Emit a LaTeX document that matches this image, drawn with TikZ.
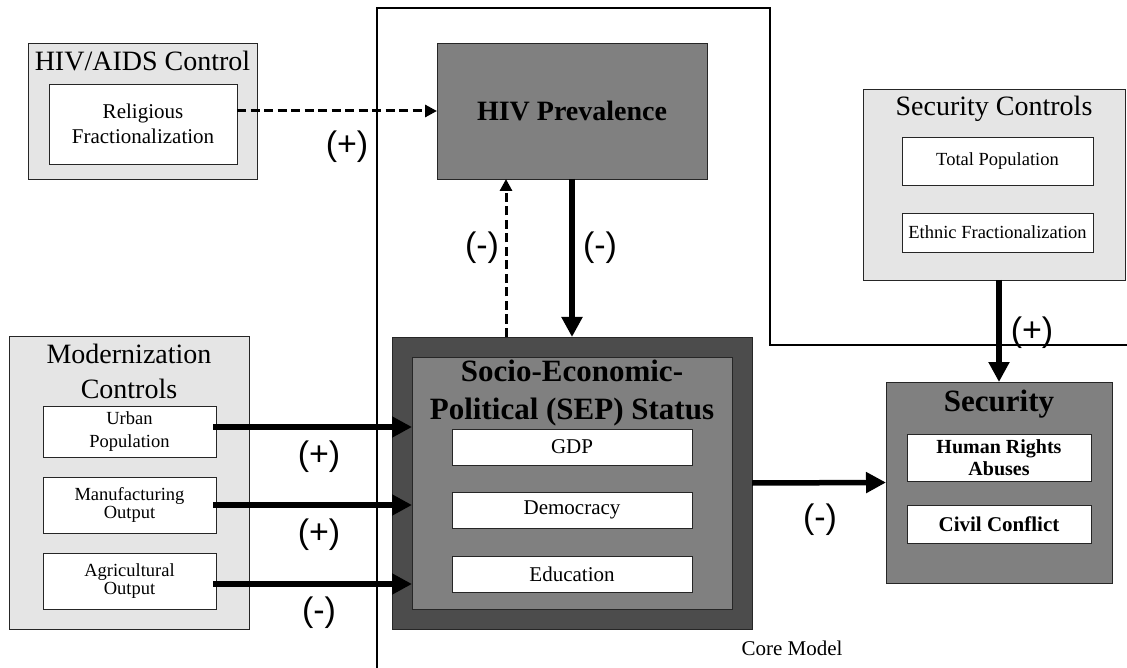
\documentclass[tikz,border=0pt]{standalone}
\usepackage{fontspec}
\setmainfont{Liberation Serif}
\newfontfamily\labfont{Liberation Sans}
\usetikzlibrary{arrows.meta}
\begin{document}
\begin{tikzpicture}[x=1pt,y=-1pt,
 rbox/.style={draw=black!85, line width=0.8pt, inner sep=0pt, outer sep=0pt},
 ctl/.style={rbox, fill=black!10},
 wbox/.style={rbox, fill=white},
 gbox/.style={rbox, fill=black!50},
 dbox/.style={rbox, fill=black!70},
 txt/.style={inner sep=0pt, align=center},
 sign/.style={inner sep=0pt, font=\labfont\fontsize{34}{36}\selectfont},
 strong/.style={line width=5.5pt, -{Triangle[length=20pt,width=20pt]}},
 dasharrow/.style={line width=3pt, dash pattern=on 9pt off 4.5pt, -{Triangle[length=12pt,width=12pt]}},
 coreline/.style={line width=1.3pt, draw=black},
]
\useasboundingbox (0,0) rectangle (1127,668);

% core model outline
\coordinate (cm1) at (377,668);
\coordinate (cm2) at (377,8);
\coordinate (cm3) at (770,8);
\coordinate (cm4) at (770,345);
\coordinate (cm5) at (1127,345);
\draw[coreline] (cm1) -- (cm2) -- (cm3) -- (cm4) -- (cm5);
\node[txt, font=\fontsize{21}{24}\selectfont] (coremodel) at (792,648) {Core Model};

% HIV/AIDS control
\node[ctl, minimum width=229pt, minimum height=136pt] (hivctl) at (142.5,111) {};
\node[txt, font=\fontsize{28}{30}\selectfont] (hivctlT) at (142.5,61) {HIV/AIDS Control};
\node[wbox, minimum width=188pt, minimum height=80pt] (relig) at (143,124) {};
\node[txt, font=\fontsize{21}{25}\selectfont] (religT) at (143,124) {Religious\\Fractionalization};

% HIV prevalence
\node[gbox, minimum width=270pt, minimum height=136pt, font=\bfseries\fontsize{28}{30}\selectfont] (hiv) at (572,111) {HIV Prevalence};

% Security controls
\node[ctl, minimum width=262pt, minimum height=191pt] (secctl) at (994,184.5) {};
\node[txt, font=\fontsize{28}{30}\selectfont] (secctlT) at (994,109) {Security Controls};
\node[wbox, minimum width=191pt, minimum height=48pt, font=\fontsize{18.5}{21}\selectfont] (totpop) at (997.5,161) {Total Population};
\node[wbox, minimum width=191pt, minimum height=39pt, font=\fontsize{18.5}{21}\selectfont] (ethnic) at (997.5,232.5) {Ethnic Fractionalization};

% Modernization controls
\node[ctl, minimum width=240pt, minimum height=293pt] (modctl) at (129,482.5) {};
\node[txt, font=\fontsize{28}{35}\selectfont] (modctlT) at (129,371) {Modernization\\Controls};
\node[wbox, minimum width=173pt, minimum height=51pt] (urban) at (129.5,431.5) {};
\node[txt, font=\fontsize{18.5}{23}\selectfont] (urbanT) at (129.5,431.5) {Urban\\Population};
\node[wbox, minimum width=173pt, minimum height=56pt] (manuf) at (129.5,505) {};
\node[txt, font=\fontsize{18.5}{18.5}\selectfont] (manufT) at (129.5,505) {Manufacturing\\Output};
\node[wbox, minimum width=173pt, minimum height=56pt] (agri) at (129.5,581) {};
\node[txt, font=\fontsize{18.5}{18.5}\selectfont] (agriT) at (129.5,581) {Agricultural\\Output};

% SEP status
\node[dbox, minimum width=360pt, minimum height=292pt] (sepout) at (572,483) {};
\node[gbox, minimum width=320pt, minimum height=252pt] (sepin) at (572,483) {};
\node[txt, font=\bfseries\fontsize{31}{38}\selectfont] (sepT) at (572,393) {Socio-Economic-\\Political (SEP) Status};
\node[wbox, minimum width=240pt, minimum height=36pt, font=\fontsize{21}{24}\selectfont] (gdp) at (572,447) {GDP};
\node[wbox, minimum width=240pt, minimum height=36pt, font=\fontsize{21}{24}\selectfont] (demo) at (572,510) {Democracy};
\node[wbox, minimum width=240pt, minimum height=36pt, font=\fontsize{21}{24}\selectfont] (edu) at (572,574) {Education};

% Security
\node[gbox, minimum width=226pt, minimum height=201pt] (sec) at (999,482.5) {};
\node[txt, font=\bfseries\fontsize{31}{34}\selectfont] (secT) at (999,404) {Security};
\node[wbox, minimum width=184pt, minimum height=47pt] (hra) at (999,457.5) {};
\node[txt, font=\bfseries\fontsize{20}{22}\selectfont] (hraT) at (999,457.5) {Human Rights\\Abuses};
\node[wbox, minimum width=184pt, minimum height=38pt, font=\bfseries\fontsize{21}{24}\selectfont] (civil) at (999,524) {Civil Conflict};

% connectors
\draw[dasharrow] (relig.east |- hiv.west) -- (hiv.west);
\draw[dasharrow] (sepout.north -| 506,0) -- (hiv.south -| 506,0);
\draw[strong] (hiv.south) -- (sepout.north);
\draw[strong] ([xshift=-3pt]urban.east |- 0,427) -- (sepin.west |- 0,427);
\draw[strong] ([xshift=-3pt]manuf.east) -- (sepin.west |- manuf.east);
\draw[strong] ([xshift=-3pt]agri.east |- 0,584) -- (sepin.west |- 0,584);
\draw[strong] (sepout.east) -- (sec.west);
\draw[strong] (secctl.south -| sec.north) -- (sec.north);

% signs
\node[sign] (s1) at (347,147) {(+)};
\node[sign] (s2) at (482,248) {(-)};
\node[sign] (s3) at (600,248) {(-)};
\node[sign] (s4) at (319,457) {(+)};
\node[sign] (s5) at (319,535) {(+)};
\node[sign] (s6) at (319,613) {(-)};
\node[sign] (s7) at (820,520) {(-)};
\node[sign] (s8) at (1032,333) {(+)};
\end{tikzpicture}
\end{document}
